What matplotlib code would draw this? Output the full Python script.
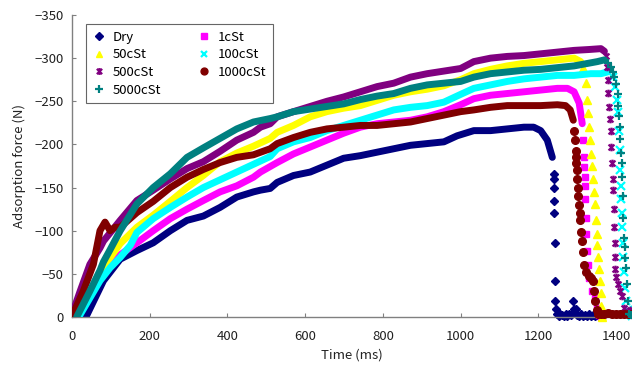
import numpy as np
import matplotlib.pyplot as plt
from matplotlib.path import Path

plt.rcParams['font.family'] = ['Noto Sans CJK JP', 'DejaVu Sans']

# ---- datos (tiempo en ms, fuerza en N) ----
dry_t = [20, 38, 81, 124, 167, 209, 253, 296, 338, 381, 424, 467, 485, 510, 528, 570, 613, 656, 699, 742,
         785, 828, 871, 914, 957, 991, 1034, 1077, 1120, 1163, 1188, 1206, 1223, 1236]
dry_f = [0, -2, -42, -67, -77, -86, -100, -112, -117, -127, -139, -145, -147, -149, -156, -164, -168, -176, -184, -187,
         -191, -195, -199, -201, -203, -210, -216, -216, -218, -220, -220, -216, -205, -185]
dry_drop_t = [1240, 1241, 1241, 1241, 1241, 1242, 1242, 1243, 1245, 1249, 1252, 1256, 1260, 1265, 1270, 1275,
              1280, 1285, 1289, 1292, 1297, 1300, 1305, 1310, 1315, 1320, 1325, 1330, 1335, 1340, 1345,
              1350, 1355, 1360]
dry_drop_f = [-166, -160, -150, -135, -120, -86, -42, -19, -9, -3, -1, -3, -2, -1, -3, -1,
              -3, -2, -19, -9, -9, -2, -1, -3, -1, -2, -1, -3, -1, -2, -1,
              -2, -1, 0]

c1_t = [15, 40, 81, 124, 167, 209, 253, 296, 338, 381, 424, 467, 485, 528, 570, 613, 656, 699, 742, 785,
        828, 871, 914, 957, 1000, 1034, 1077, 1120, 1163, 1206, 1249, 1275, 1292, 1305, 1313]
c1_f = [0, -22, -52, -72, -86, -100, -114, -125, -135, -145, -152, -162, -168, -179, -189, -197, -205, -213, -220, -224,
        -226, -228, -232, -238, -246, -253, -257, -259, -261, -263, -265, -265, -261, -248, -224]
c1_drop_t = [1316, 1318, 1318, 1319, 1319, 1320, 1322, 1323, 1325, 1328, 1331, 1338, 1345, 1350, 1355, 1360, 1365]
c1_drop_f = [-205, -185, -174, -162, -152, -137, -115, -96, -77, -60, -45, -30, -22, -11, -2, 0, 0]

c50_t = [15, 50, 81, 124, 167, 209, 253, 296, 338, 381, 424, 467, 510, 528, 570, 613, 656, 699, 742, 785,
         828, 871, 914, 957, 1000, 1034, 1077, 1120, 1163, 1206, 1249, 1292, 1309]
c50_f = [0, -30, -58, -85, -104, -118, -134, -150, -164, -180, -190, -198, -207, -214, -222, -232, -238, -242, -245, -251,
         -257, -261, -264, -268, -275, -282, -287, -291, -294, -296, -298, -300, -296]
c50_drop_t = [1316, 1322, 1326, 1329, 1331, 1334, 1336, 1338, 1341, 1344, 1346, 1348, 1350, 1352, 1354, 1356,
              1358, 1360, 1362, 1365]
c50_drop_f = [-288, -271, -251, -236, -220, -205, -189, -175, -160, -145, -131, -112, -96, -83, -69, -56,
              -42, -28, -13, 0]

c100_t = [0, 20, 46, 72, 98, 124, 150, 167, 209, 253, 296, 338, 381, 424, 467, 510, 528, 570, 613, 656,
          699, 742, 785, 828, 871, 914, 957, 1000, 1034, 1077, 1120, 1163, 1206, 1249, 1292, 1335, 1361, 1378]
c100_f = [0, -2, -22, -42, -57, -69, -83, -98, -114, -127, -139, -150, -159, -168, -177, -186, -195, -203, -208, -216,
          -222, -228, -234, -240, -243, -245, -249, -258, -265, -269, -273, -276, -278, -280, -280, -282, -282, -284]
c100_drop_t = [1392, 1398, 1402, 1405, 1407, 1409, 1411, 1412, 1413, 1414, 1415, 1417, 1419, 1421, 1423, 1426, 1430,
               1435, 1440]
c100_drop_f = [-278, -266, -252, -238, -216, -193, -170, -152, -137, -120, -104, -86, -69, -52, -34, -18, -8,
               -3, -1]

c500_t = [0, 21, 46, 72, 81, 124, 167, 209, 253, 296, 338, 381, 424, 467, 485, 510, 528, 570, 613, 656,
          699, 742, 785, 828, 871, 914, 957, 1000, 1034, 1077, 1120, 1163, 1206, 1249, 1292, 1330, 1361, 1370]
c500_f = [-3, -30, -61, -80, -88, -112, -135, -147, -160, -172, -180, -192, -205, -214, -220, -224, -232, -238, -244, -250,
          -255, -261, -267, -271, -278, -282, -285, -288, -296, -300, -302, -303, -305, -307, -309, -310, -311, -308]
c500_drop_t = [1374, 1377, 1378, 1380, 1382, 1384, 1386, 1388, 1390, 1392, 1393, 1394, 1395, 1396, 1397, 1398,
               1400, 1405, 1410, 1415, 1420, 1425, 1430, 1435, 1440]
c500_drop_f = [-302, -290, -275, -260, -243, -230, -216, -197, -178, -160, -147, -125, -104, -86, -69, -56,
               -46, -38, -30, -24, -11, -6, -3, -8, -2]

c1000_t = [0, 29, 55, 72, 85, 98, 111, 124, 167, 209, 253, 296, 338, 381, 424, 467, 510, 528, 570, 613,
           656, 699, 742, 785, 828, 871, 914, 957, 1000, 1034, 1077, 1120, 1163, 1206, 1249, 1270, 1282, 1290]
c1000_f = [-1, -30, -61, -100, -110, -100, -104, -104, -121, -134, -150, -162, -171, -179, -185, -188, -195, -201, -208, -214,
           -218, -220, -222, -222, -224, -226, -230, -234, -238, -240, -243, -245, -245, -245, -246, -245, -240, -228]
c1000_drop_t = [1292, 1294, 1296, 1297, 1298, 1300, 1300, 1301, 1302, 1304, 1306, 1308, 1310, 1312, 1314, 1317,
                1322, 1330, 1336, 1340, 1344, 1347, 1350, 1354, 1360, 1370, 1380, 1390, 1400, 1410, 1420, 1430, 1440]
c1000_drop_f = [-216, -205, -192, -185, -178, -170, -160, -150, -140, -130, -120, -112, -98, -88, -75, -60,
                -52, -48, -45, -42, -30, -19, -8, -4, -4, -3, -5, -4, -3, -4, -3, -4, -3]

c5000_t = [12, 46, 72, 81, 98, 124, 167, 209, 253, 296, 338, 381, 424, 467, 510, 528, 570, 613, 656, 699,
           742, 785, 828, 871, 914, 957, 1000, 1034, 1077, 1120, 1163, 1206, 1249, 1292, 1352, 1370]
c5000_f = [0, -30, -54, -64, -78, -100, -131, -150, -166, -185, -196, -207, -218, -226, -230, -232, -238, -241, -244, -247,
           -252, -256, -259, -265, -269, -271, -273, -278, -282, -284, -286, -287, -289, -291, -296, -298]
c5000_drop_t = [1380, 1387, 1392, 1395, 1400, 1404, 1406, 1408, 1409, 1411, 1413, 1414, 1416, 1418, 1419, 1420,
                1422, 1423, 1425, 1427, 1430, 1433, 1438]
c5000_drop_f = [-294, -290, -284, -278, -270, -258, -245, -233, -220, -206, -190, -178, -162, -140, -115, -92,
                -81, -68, -57, -38, -19, -3, -2]

nombres = ['Dry', '1cSt', '50cSt', '100cSt', '500cSt', '1000cSt', '5000cSt']
colores = ['#000080', '#FF00FF', '#FFFF00', '#00FFFF', '#800080', '#800000', '#008080']

# marcador tipo estrella de excel (x con linea vertical)
estrella = Path([(-1, -1), (1, 1), (-1, 1), (1, -1), (0, -1.3), (0, 1.3)],
                [Path.MOVETO, Path.LINETO, Path.MOVETO, Path.LINETO, Path.MOVETO, Path.LINETO])
marcadores = ['D', 's', '^', 'x', estrella, 'o', '+']
tamanos = [4.5, 5, 5.5, 5.5, 5.5, 5.5, 6]

cuerpos = [(dry_t, dry_f), (c1_t, c1_f), (c50_t, c50_f), (c100_t, c100_f),
           (c500_t, c500_f), (c1000_t, c1000_f), (c5000_t, c5000_f)]
caidas = [(dry_drop_t, dry_drop_f), (c1_drop_t, c1_drop_f), (c50_drop_t, c50_drop_f),
          (c100_drop_t, c100_drop_f), (c500_drop_t, c500_drop_f), (c1000_drop_t, c1000_drop_f),
          (c5000_drop_t, c5000_drop_f)]

fig = plt.figure(figsize=(6.32, 3.70), dpi=100)
ax = fig.add_axes([72/632, 1 - 317/370, 1 - 72/632, 302/370])

handles = []
for i in range(len(nombres)):
    t, f = cuerpos[i]
    ax.plot(t, f, color=colores[i], lw=5, solid_joinstyle='round', solid_capstyle='round', zorder=2 + i)
    td, fd = caidas[i]
    ancho = 1.6 if marcadores[i] in ('x', '+') or marcadores[i] is estrella else 1
    h, = ax.plot(td, fd, ls='none', marker=marcadores[i], ms=tamanos[i], color=colores[i],
                 mec=colores[i], mew=ancho, label=nombres[i], zorder=2 + i, clip_on=False)
    handles.append(h)

ax.set_xlim(0, 1441)
ax.set_ylim(0, -350)
ax.set_xticks(np.arange(0, 1401, 200))
ax.set_yticks(np.arange(0, -351, -50))

for s in ['top', 'right']:
    ax.spines[s].set_visible(False)
for s in ['left', 'bottom']:
    ax.spines[s].set_color('#808080')
    ax.spines[s].set_linewidth(1)

ax.tick_params(axis='both', direction='in', length=3, color='#808080', labelsize=9.5, labelcolor='#222222')
ax.tick_params(axis='x', pad=9)
ax.tick_params(axis='y', pad=6)

ax.set_xlabel('Time (ms)', fontsize=9.5, color='#222222', labelpad=4)
ax.set_ylabel('Adsorption force (N)', fontsize=9.5, color='#222222', labelpad=6)

orden = [0, 2, 4, 6, 1, 3, 5]
leg = ax.legend([handles[k] for k in orden], [nombres[k] for k in orden], ncol=2,
                loc='upper left', bbox_to_anchor=(0.025, 0.97), borderaxespad=0,
                fontsize=9.5, frameon=True, fancybox=False, edgecolor='#404040',
                handlelength=1.0, handletextpad=0.5, columnspacing=2.8, labelspacing=0.35,
                borderpad=0.5, markerscale=0.9)
leg.get_frame().set_linewidth(0.8)
leg.set_zorder(20)

plt.savefig('out.png', dpi=100)
